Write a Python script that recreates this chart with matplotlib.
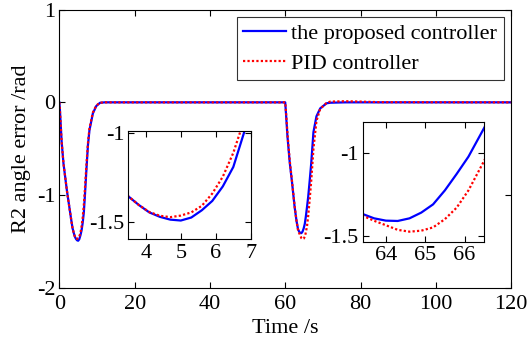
import matplotlib
matplotlib.use("Agg")
import matplotlib.pyplot as plt

plt.rcParams['font.family'] = ['Liberation Serif', 'DejaVu Serif']
plt.rcParams['mathtext.fontset'] = 'stix'

# Data
time_s = [0, 0.15, 0.6, 1.1, 2.0, 2.8, 3.2, 3.5, 3.8, 4.1, 4.4, 4.7, 5.0, 5.3, 5.6, 5.9,
          6.2, 6.5, 6.8, 7.2, 7.6, 8.0, 8.9, 9.8, 10.8, 12,
          60, 60.2, 60.6, 61.2, 61.8, 62.5, 63.0, 63.4, 63.7, 64.0, 64.3, 64.6, 64.9,
          65.2, 65.5, 65.8, 66.1, 66.5, 66.9, 67.5, 68.3, 69.3, 71, 72, 76, 80, 85, 120]

proposed = [0, -0.08, -0.42, -0.66, -0.95, -1.17, -1.28, -1.356, -1.405, -1.447, -1.472,
            -1.488, -1.493, -1.476, -1.435, -1.382, -1.30, -1.19, -1.0, -0.72, -0.46,
            -0.30, -0.12, -0.04, -0.005, 0,
            0, -0.12, -0.37, -0.65, -0.86, -1.13, -1.28, -1.368, -1.395, -1.409, -1.411,
            -1.395, -1.36, -1.31, -1.225, -1.125, -1.02, -0.845, -0.66, -0.32, -0.15,
            -0.065, -0.01, -0.004, 0, 0, 0, 0]

pid = [0, -0.08, -0.42, -0.66, -0.95, -1.17, -1.28, -1.356, -1.405, -1.445, -1.466,
       -1.474, -1.465, -1.447, -1.41, -1.34, -1.245, -1.11, -0.93, -0.67, -0.44,
       -0.28, -0.11, -0.035, -0.004, 0,
       0, -0.10, -0.34, -0.63, -0.85, -1.12, -1.28, -1.378, -1.41, -1.437, -1.465,
       -1.476, -1.47, -1.45, -1.40, -1.33, -1.225, -1.045, -0.85, -0.50, -0.20,
       -0.07, -0.005, 0.008, 0.012, 0.008, 0.002, 0]

main_xticks = [0, 20, 40, 60, 80, 100, 120]
main_yticks = [-2, -1, 0, 1]
inset1_xticks = [4, 5, 6, 7]
inset1_yticks = [-1.5, -1]
inset2_xticks = [64, 65, 66]
inset2_yticks = [-1.5, -1]

BLUE = (0, 0, 1)
RED = (1, 0, 0)
FS = 16

fig = plt.figure(figsize=(5.28, 3.45), dpi=100)
ax = fig.add_axes([0.1124, 0.166, 0.968 - 0.1124, 0.972 - 0.166])


def style(a):
    a.tick_params(direction='in', top=True, right=True, labelsize=FS, length=4,
                  width=0.8, pad=3)
    for s in a.spines.values():
        s.set_linewidth(0.8)


def draw(a):
    a.plot(time_s, proposed, color=BLUE, lw=1.6, label='the proposed controller')
    a.plot(time_s, pid, color=RED, lw=1.6, ls=(0, (1, 1)), label='PID controller')


draw(ax)
ax.set_xlim(0, 120)
ax.set_ylim(-2, 1)
ax.set_xticks(main_xticks)
ax.set_yticks(main_yticks)
style(ax)
ax.tick_params(axis='x', pad=5)
ax.set_xlabel('Time /s', fontsize=FS, labelpad=4)
ax.set_ylabel('R2 angle error /rad', fontsize=FS, labelpad=4)
leg = ax.legend(loc='upper right', fontsize=FS, frameon=True, fancybox=False,
                edgecolor='black', borderaxespad=0.33, handlelength=1.9,
                handletextpad=0.25, borderpad=0.3, labelspacing=0.4)
leg.get_frame().set_linewidth(0.8)

ax1 = fig.add_axes([0.243, 0.306, 0.232, 0.314])
draw(ax1)
ax1.set_xlim(3.5, 7.0)
ax1.set_ylim(-1.6, -0.987)
ax1.set_xticks(inset1_xticks)
ax1.set_yticks(inset1_yticks)
ax1.set_yticklabels(['-1.5', '-1'])
style(ax1)

ax2 = fig.add_axes([0.687, 0.298, 0.230, 0.349])
draw(ax2)
ax2.set_xlim(63.41, 66.5)
ax2.set_ylim(-1.54, -0.808)
ax2.set_xticks(inset2_xticks)
ax2.set_yticks(inset2_yticks)
ax2.set_yticklabels(['-1.5', '-1'])
style(ax2)

ax.set_yticklabels(['-2', '-1', '0', '1'])

fig.savefig('out.png', dpi=100)
